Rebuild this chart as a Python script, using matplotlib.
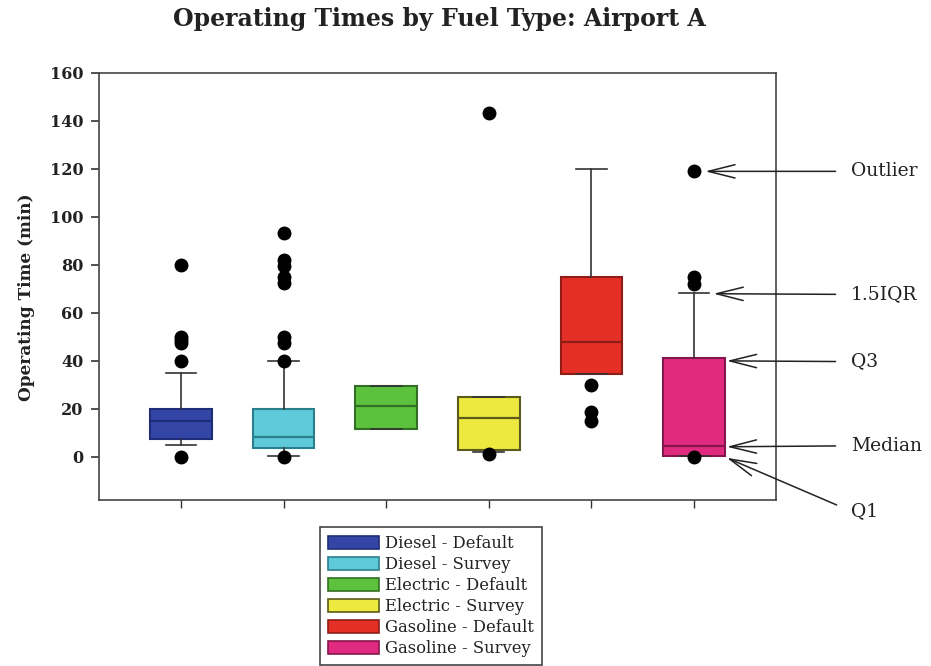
import numpy as np
from matplotlib import pyplot as plt

# box statistics (minutes)
labels = ["Diesel - Default", "Diesel - Survey", "Electric - Default",
          "Electric - Survey", "Gasoline - Default", "Gasoline - Survey"]
q1 = [7.5, 3.5, 11.7, 3.0, 34.7, 0.5]
med = [14.8, 8.3, 21.0, 16.0, 48.0, 4.6]
q3 = [20.0, 20.0, 29.6, 25.0, 74.8, 41.0]
whislo = [4.8, 0.5, 11.7, 2.0, 34.7, 0.3]
whishi = [35.0, 40.0, 29.6, 25.0, 120.0, 68.5]
fliers = [
    [0, 40, 47.5, 48.5, 50, 80],
    [0, 40, 47.5, 50, 72.5, 75, 79.5, 82, 93.5],
    [],
    [1, 143.5],
    [15, 18.5, 30],
    [0, 72, 75, 119],
]

fill_colors = ["#3346a6", "#5ecada", "#5cc23e", "#ede93f", "#e32f26", "#e02a7f"]
edge_colors = ["#1f2c78", "#2a7f8c", "#326e24", "#5c5a1c", "#8e1d17", "#85164b"]

# annotation labels on the right: (text, text_y, arrow_x, arrow_y)
notes = ["Outlier", "1.5IQR", "Q3", "Median", "Q1"]
note_text_y = [119, 67.7, 39.7, 4.6, -22.6]
note_head_x = [6.11, 6.19, 6.32, 6.32, 6.32]
note_head_y = [119, 68, 40, 4.2, -0.4]

plt.rcParams["font.family"] = ["DejaVu Serif"]

fig = plt.figure(figsize=(9.31, 6.66), dpi=100)
ax = fig.add_axes([0.1063, 0.2492, 0.7272, 0.6412])

positions = np.arange(1, len(labels) + 1)
stats = []
for i, lab in enumerate(labels):
    stats.append(dict(label=lab, q1=q1[i], med=med[i], q3=q3[i],
                      whislo=whislo[i], whishi=whishi[i],
                      fliers=np.array(fliers[i], dtype=float)))

bp = ax.bxp(stats, positions=positions, widths=0.6, patch_artist=True,
            showfliers=True,
            whiskerprops=dict(color="#333333", linewidth=1.2),
            capprops=dict(color="#333333", linewidth=1.2),
            flierprops=dict(marker="o", markerfacecolor="black",
                            markeredgecolor="black", markersize=9, zorder=3))

for i in range(len(labels)):
    bp["boxes"][i].set_facecolor(fill_colors[i])
    bp["boxes"][i].set_edgecolor(edge_colors[i])
    bp["boxes"][i].set_linewidth(1.5)
    bp["medians"][i].set_color(edge_colors[i])
    bp["medians"][i].set_linewidth(1.6)

ax.set_xlim(0.2, 6.8)
ax.set_ylim(-18, 160)
ax.set_yticks(np.arange(0, 161, 20))
ax.set_xticks(positions)
ax.set_xticklabels([])
ax.tick_params(axis="y", length=6, width=1.2, pad=5, labelsize=11.5, colors="#333333")
ax.tick_params(axis="x", length=6, width=1.0, colors="#333333")
for lbl in ax.get_yticklabels():
    lbl.set_fontweight("bold")
    lbl.set_color("#222222")
for sp in ax.spines.values():
    sp.set_color("#444444")
    sp.set_linewidth(1.2)

fig.text(439 / 931, 1 - 19 / 666, "Operating Times by Fuel Type: Airport A",
         ha="center", va="center", fontsize=17, fontweight="bold", color="#222222")
fig.text(27 / 931, 1 - 297 / 666, "Operating Time (min)", rotation=90,
         ha="center", va="center", fontsize=12.2, fontweight="bold", color="#222222")

for i, txt in enumerate(notes):
    ax.annotate(txt, xy=(note_head_x[i], note_head_y[i]),
                xytext=(7.53, note_text_y[i]), textcoords="data",
                ha="left", va="center", fontsize=13.5, color="#222222",
                annotation_clip=False,
                arrowprops=dict(arrowstyle="->,head_length=1.2,head_width=0.3",
                                mutation_scale=16, color="#222222", lw=1.1,
                                relpos=(0, 0.5), shrinkA=9, shrinkB=0))

handles = [plt.Rectangle((0, 0), 1, 1, facecolor=fill_colors[i],
                         edgecolor=edge_colors[i], linewidth=1.2)
           for i in range(len(labels))]
leg = fig.legend(handles, labels, loc="upper center",
                 bbox_to_anchor=(431 / 931, 1 - 527 / 666), borderaxespad=0,
                 fontsize=11.8, handlelength=3.1, handleheight=0.85,
                 labelspacing=0.24, handletextpad=0.35, borderpad=0.5,
                 fancybox=False, framealpha=1)
leg.get_frame().set_edgecolor("#444444")
leg.get_frame().set_linewidth(1.2)
for t in leg.get_texts():
    t.set_color("#222222")

fig.savefig("out.png", dpi=100)
plt.close(fig)
